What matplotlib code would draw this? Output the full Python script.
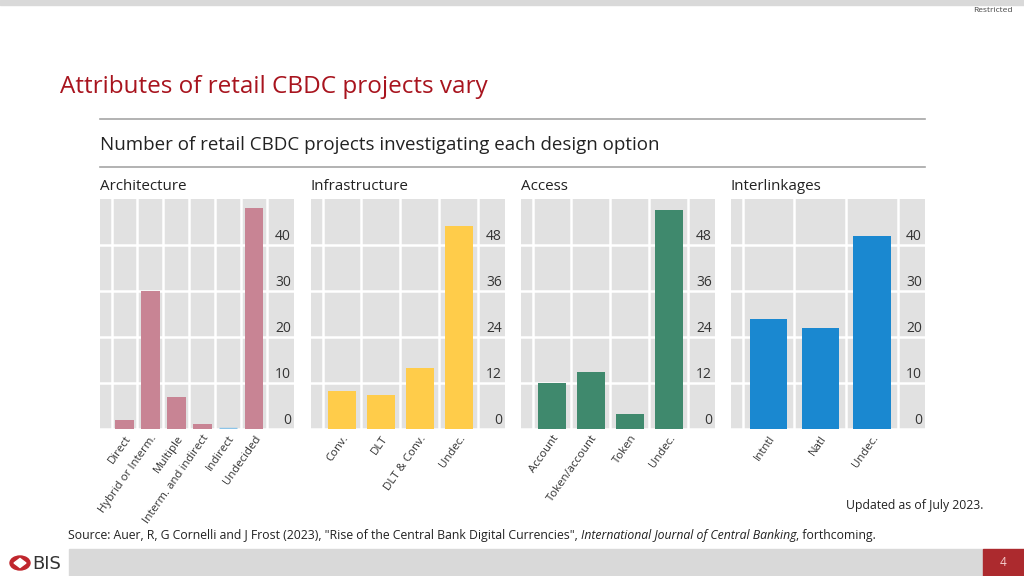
import matplotlib
matplotlib.use("Agg")
import matplotlib.pyplot as plt
import matplotlib.transforms as mtransforms
from matplotlib.patches import Rectangle, Ellipse, Polygon

plt.rcParams['font.family'] = ['Open Sans', 'DejaVu Sans']

# data
arch_labels = ["Direct", "Hybrid or Interm.", "Multiple", "Interm. and indirect", "Indirect", "Undecided"]
arch_values = [2, 30, 7, 1, 0, 48]
infra_labels = ["Conv.", "DLT", "DLT & Conv.", "Undec."]
infra_values = [10, 9, 16, 53]
access_labels = ["Account", "Token/account", "Token", "Undec."]
access_values = [12, 15, 4, 57]
inter_labels = ["Intntl", "Natl", "Undec."]
inter_values = [24, 22, 42]

ticks_40 = [0, 10, 20, 30, 40]
ticks_48 = [0, 12, 24, 36, 48]

W, H = 1024, 576
fig = plt.figure(figsize=(W / 100, H / 100), dpi=100)
fig.patch.set_facecolor("white")


def px_axes(left, top, width, height):
    return fig.add_axes([left / W, 1 - (top + height) / H, width / W, height / H])


def fig_y(y):
    return 1 - y / H


def panel(left, title, labels, values, color, ticks, ymax, bar_colors=None):
    width, height = 194, 230
    ax = px_axes(left, 199, width, height)
    ax.set_facecolor("#e1e1e1")
    n = len(labels)
    cat = (width - 38.5) / n
    ax.set_xlim(-0.5 - 11.5 / cat, n - 0.5 + 27 / cat)
    ax.set_ylim(0, ymax)

    cols = bar_colors if bar_colors else [color] * n
    bars = ax.bar(range(n), values, width=0.72, color=cols, zorder=3)
    for b, c in zip(bars, cols):
        if b.get_height() == 0:
            b.set_edgecolor(c)
            b.set_linewidth(2.5)

    ax.set_xticks(range(n))
    ax.set_xticklabels(labels, rotation=55, ha="right", rotation_mode="anchor",
                       fontsize=8.2, color="#333333")
    ax.set_xticks([k - 0.5 for k in range(n + 1)], minor=True)
    ax.set_yticks(ticks)
    ax.set_yticklabels([])
    ax.tick_params(axis="both", which="both", length=0)
    ax.tick_params(axis="x", pad=3)
    ax.grid(True, axis="x", which="minor", color="white", linewidth=1.8, zorder=1)
    ax.grid(True, axis="y", which="major", color="white", linewidth=1.8, zorder=1)
    ax.grid(False, axis="x", which="major")
    for s in ax.spines.values():
        s.set_visible(False)

    trans = mtransforms.offset_copy(ax.get_yaxis_transform(), fig=fig, x=-3, y=8.5, units="dots")
    for t in ticks:
        ax.text(1, t, str(t), transform=trans, ha="right", va="center",
                fontsize=10, color="#333333")

    fig.text(left / W, fig_y(186), title, fontsize=10.9, color="#222222", va="center", ha="left")
    return ax


pink = "#c88494"
panel(100, "Architecture", arch_labels, arch_values, pink, ticks_40, 50,
      bar_colors=[pink, pink, pink, pink, "#8cc4e8", pink])
panel(311, "Infrastructure", infra_labels, infra_values, "#ffcc4a", ticks_48, 60)
panel(521, "Access", access_labels, access_values, "#3f896d", ticks_48, 60)
panel(731, "Interlinkages", inter_labels, inter_values, "#1a88d0", ticks_40, 50)

# page furniture
fig.patches.append(Rectangle((0, fig_y(5)), 1, 5 / H, transform=fig.transFigure,
                             color="#d9d9d9", zorder=0))
fig.text(1013 / W, fig_y(10), "Restricted", fontsize=6, color="#444444", ha="right", va="center")

fig.text(60 / W, fig_y(87), "Attributes of retail CBDC projects vary", fontsize=17.5,
         color="#a8141e", ha="left", va="center")
fig.lines.append(plt.Line2D([100 / W, 925 / W], [fig_y(119)] * 2, transform=fig.transFigure,
                            color="#a6a6a6", linewidth=1.2))
fig.text(100 / W, fig_y(145), "Number of retail CBDC projects investigating each design option",
         fontsize=13.5, color="#222222", ha="left", va="center")
fig.lines.append(plt.Line2D([100 / W, 925 / W], [fig_y(167)] * 2, transform=fig.transFigure,
                            color="#a6a6a6", linewidth=1.2))

fig.text(983 / W, fig_y(505), "Updated as of July 2023.", fontsize=8.8, color="#222222",
         ha="right", va="center")

# source line with italic journal name
src_font = 8.8
src1 = fig.text(68 / W, fig_y(536), 'Source: Auer, R, G Cornelli and J Frost (2023), "Rise of the Central Bank Digital Currencies", ',
                fontsize=src_font, color="#222222", ha="left", va="center")
fig.canvas.draw()
renderer = fig.canvas.get_renderer()
x1 = src1.get_window_extent(renderer).x1
src2 = fig.text(x1 / W, fig_y(536), "International Journal of Central Banking", fontsize=src_font,
                style="italic", color="#222222", ha="left", va="center")
x2 = src2.get_window_extent(renderer).x1
fig.text(x2 / W, fig_y(536), ", forthcoming.", fontsize=src_font, color="#222222",
         ha="left", va="center")

# footer bar
fig.patches.append(Rectangle((69 / W, 0), (983 - 69) / W, 27 / H, transform=fig.transFigure,
                             color="#d9d9d9", zorder=0))
fig.patches.append(Rectangle((983 / W, 0), 41 / W, 27 / H, transform=fig.transFigure,
                             color="#ac2a2e", zorder=0))
fig.text(1003 / W, fig_y(563), "4", fontsize=8.5, color="#f6d0d0", ha="center", va="center")

# BIS logo
fig.patches.append(Ellipse((20 / W, fig_y(563)), 20 / W, 14 / H, transform=fig.transFigure,
                           color="#c0262d", zorder=2))
fig.patches.append(Polygon([(14 / W, fig_y(563)), (20 / W, fig_y(558.5)), (26 / W, fig_y(563)),
                            (20 / W, fig_y(567.5))], closed=True, transform=fig.transFigure,
                           color="white", zorder=3))
fig.text(32 / W, fig_y(564), "BIS", fontsize=13, color="#333333", ha="left", va="center",
         family=["Liberation Sans Narrow", "DejaVu Sans"])

fig.savefig("out.png", dpi=100)
